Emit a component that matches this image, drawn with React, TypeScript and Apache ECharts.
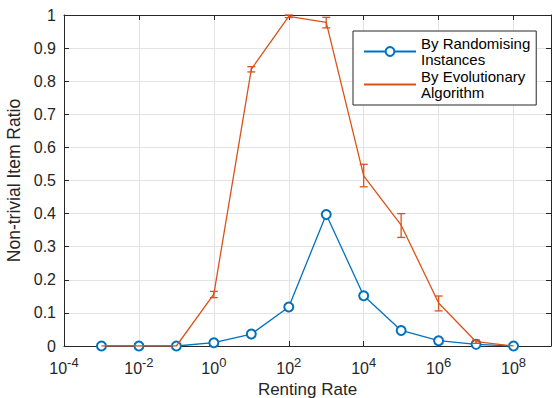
import React, { useEffect, useRef } from 'react';
import * as echarts from 'echarts';

// Data
const rentingRates = [1e-3, 1e-2, 1e-1, 1, 1e1, 1e2, 1e3, 1e4, 1e5, 1e6, 1e7, 1e8];
const randomising = [0, 0, 0, 0.010, 0.036, 0.118, 0.397, 0.152, 0.047, 0.016, 0.005, 0];
const evolutionary = [0, 0, 0, 0.157, 0.836, 0.996, 0.978, 0.514, 0.365, 0.130, 0.013, 0];
const evoLow = [0, 0, 0, 0.146, 0.828, 0.992, 0.961, 0.481, 0.328, 0.106, 0.008, 0];
const evoHigh = [0, 0, 0, 0.165, 0.844, 1.0, 0.993, 0.549, 0.400, 0.151, 0.018, 0];
const xTickValues = [1e-4, 1e-2, 1, 1e2, 1e4, 1e6, 1e8];
const seriesNames = ['By Randomising\nInstances', 'By Evolutionary\nAlgorithm'];
const xLabel = 'Renting Rate';
const yLabel = 'Non-trivial Item Ratio';

const BLUE = '#0072BD';
const ORANGE = '#D95319';
const AXIS = '#262626';
const GRID = '#e3e3e3';
const FONT = '"Liberation Sans", Arial, Helvetica, sans-serif';

export default function App() {
  const ref = useRef<HTMLDivElement>(null);
  useEffect(() => {
    document.body.style.margin = '0';
    const chart = echarts.init(ref.current!, null, { renderer: 'svg' });
    const xCommon = {
      type: 'log' as const,
      logBase: 10,
      min: 1e-4,
      max: 1e9,
      interval: 4,
      axisLine: { show: true, onZero: false, lineStyle: { color: AXIS, width: 1 } },
      axisTick: { show: true, inside: true, length: 5, customValues: xTickValues, lineStyle: { color: AXIS } },
      minorTick: { show: false },
    };
    const yCommon = {
      type: 'value' as const,
      min: 0,
      max: 1,
      interval: 0.1,
      axisLine: { show: true, onZero: false, lineStyle: { color: AXIS, width: 1 } },
      axisTick: { show: true, inside: true, length: 5, lineStyle: { color: AXIS } },
    };
    chart.setOption({
      animation: false,
      backgroundColor: '#fff',
      textStyle: { fontFamily: FONT },
      grid: { left: 64, top: 15, right: 1, bottom: 52, containLabel: false, outerBoundsMode: 'none' },
      xAxis: [
        {
          ...xCommon,
          position: 'bottom',
          name: xLabel,
          nameLocation: 'middle',
          nameGap: 32,
          nameTextStyle: { fontSize: 17, color: AXIS, fontFamily: FONT },
          splitLine: { show: true, lineStyle: { color: GRID, width: 1 } },
          axisLabel: {
            margin: 10,
            customValues: xTickValues,
            color: AXIS,
            formatter: (v: number) => {
              const e = Math.round(Math.log10(v));
              if (e > 8) return '';
              return '{b|10}{s|' + e + '}';
            },
            rich: {
              b: { fontSize: 16, lineHeight: 20, verticalAlign: 'bottom', color: AXIS, fontFamily: FONT },
              s: { fontSize: 13, lineHeight: 13, verticalAlign: 'top', color: AXIS, fontFamily: FONT },
            },
          },
        },
        {
          ...xCommon,
          position: 'top',
          axisLabel: { show: false },
          splitLine: { show: false },
        },
      ],
      yAxis: [
        {
          ...yCommon,
          position: 'left',
          name: yLabel,
          nameLocation: 'middle',
          nameGap: 38,
          nameTextStyle: { fontSize: 17.5, color: AXIS, fontFamily: FONT },
          splitLine: { show: true, lineStyle: { color: GRID, width: 1 } },
          axisLabel: {
            margin: 8,
            fontSize: 16,
            color: AXIS,
            fontFamily: FONT,
            formatter: (v: number) => (v === 0 ? '0' : v === 1 ? '1' : v.toFixed(1)),
          },
        },
        {
          ...yCommon,
          position: 'right',
          axisLabel: { show: false },
          splitLine: { show: false },
        },
      ],
      legend: {
        data: [
          { name: seriesNames[0] },
          {
            name: seriesNames[1],
            itemStyle: { color: 'rgba(0,0,0,0)', borderColor: 'rgba(0,0,0,0)', borderWidth: 0, opacity: 0 },
          },
        ],
        orient: 'vertical',
        left: 353,
        top: 31,
        itemWidth: 52,
        itemHeight: 11,
        itemGap: 0,
        padding: [4, 6, 4, 10],
        borderColor: AXIS,
        borderWidth: 1,
        borderRadius: 0,
        backgroundColor: '#fff',
        textStyle: { fontSize: 15, lineHeight: 16.5, color: '#000', fontFamily: FONT },
      },
      series: [
        {
          name: seriesNames[0],
          type: 'line',
          xAxisIndex: 0,
          yAxisIndex: 0,
          data: rentingRates.map((x, i) => [x, randomising[i]]),
          symbol: 'emptyCircle',
          symbolSize: 9,
          lineStyle: { color: BLUE, width: 1.3 },
          itemStyle: { color: BLUE, borderColor: BLUE, borderWidth: 1.5 },
          z: 2,
        },
        {
          name: seriesNames[1],
          type: 'line',
          xAxisIndex: 0,
          yAxisIndex: 0,
          data: rentingRates.map((x, i) => [x, evolutionary[i]]),
          symbol: 'none',
          lineStyle: { color: ORANGE, width: 1.3 },
          itemStyle: { color: ORANGE },
          z: 3,
        },
        {
          name: 'errorbars',
          type: 'custom',
          xAxisIndex: 0,
          yAxisIndex: 0,
          z: 4,
          data: rentingRates
            .map((x, i) => [x, evoLow[i], evoHigh[i]])
            .filter((d) => d[2] - d[1] > 0),
          encode: { x: 0, y: [1, 2] },
          renderItem: (params: any, api: any) => {
            const x = api.value(0);
            const pLo = api.coord([x, api.value(1)]);
            const pHi = api.coord([x, api.value(2)]);
            const w = 4;
            const style = { stroke: ORANGE, lineWidth: 1.3, fill: 'none' };
            return {
              type: 'group',
              children: [
                { type: 'line', shape: { x1: pLo[0], y1: pLo[1], x2: pHi[0], y2: pHi[1] }, style },
                { type: 'line', shape: { x1: pLo[0] - w, y1: pLo[1], x2: pLo[0] + w, y2: pLo[1] }, style },
                { type: 'line', shape: { x1: pHi[0] - w, y1: pHi[1], x2: pHi[0] + w, y2: pHi[1] }, style },
              ],
            };
          },
        },
      ],
    });
    return () => chart.dispose();
  }, []);
  return <div ref={ref} style={{ width: 552, height: 398 }} />;
}
